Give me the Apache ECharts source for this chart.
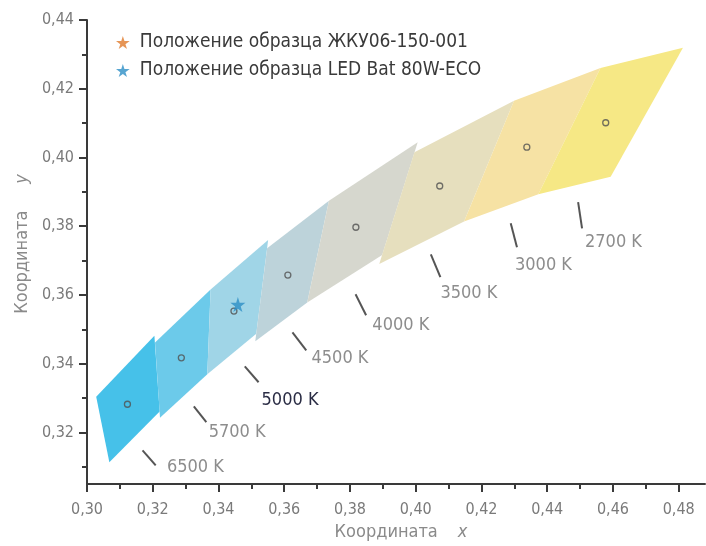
<!DOCTYPE html>
<html>
<head>
<meta charset="utf-8">
<script src="https://cdn.jsdelivr.net/npm/echarts@6/dist/echarts.min.js"></script>
<style>html,body{margin:0;padding:0;background:#fff}#c{width:706px;height:546px}</style>
</head>
<body>
<div id="c"></div>
<script>
// ---- data ----
const cctNames = ['6500 K', '5700 K', '5000 K', '4500 K', '4000 K', '3500 K', '3000 K', '2700 K'];
// quadrangle corners (x, y) for each CCT bin
const quadX = [
  [0.3205, 0.3028, 0.3068, 0.3221],
  [0.3376, 0.3207, 0.3222, 0.3366],
  [0.3551, 0.3376, 0.3366, 0.3515],
  [0.3736, 0.3548, 0.3512, 0.3670],
  [0.4006, 0.3736, 0.3670, 0.3898],
  [0.4299, 0.3996, 0.3889, 0.4147],
  [0.4562, 0.4299, 0.4147, 0.4373],
  [0.4813, 0.4562, 0.4373, 0.4593]
];
const quadY = [
  [0.3481, 0.3304, 0.3113, 0.3261],
  [0.3616, 0.3462, 0.3243, 0.3369],
  [0.3760, 0.3616, 0.3369, 0.3487],
  [0.3874, 0.3736, 0.3465, 0.3578],
  [0.4044, 0.3874, 0.3578, 0.3716],
  [0.4165, 0.4015, 0.3690, 0.3814],
  [0.4260, 0.4165, 0.3814, 0.3893],
  [0.4319, 0.4260, 0.3893, 0.3944]
];
const centerX = [0.3123, 0.3287, 0.3447, 0.3611, 0.3818, 0.4073, 0.4338, 0.4578];
const centerY = [0.3282, 0.3417, 0.3553, 0.3658, 0.3797, 0.3917, 0.4030, 0.4101];
// CCT annotation: leader line (start/end) and label anchor, in chart units
const leadX1 = [0.3169, 0.3325, 0.3480, 0.3625, 0.3817, 0.4046, 0.4289, 0.4494];
const leadY1 = [0.3148, 0.3276, 0.3392, 0.3491, 0.3602, 0.3718, 0.3809, 0.3870];
const leadX2 = [0.3209, 0.3363, 0.3522, 0.3667, 0.3849, 0.4075, 0.4308, 0.4506];
const leadY2 = [0.3104, 0.3230, 0.3346, 0.3439, 0.3541, 0.3652, 0.3739, 0.3794];
const labelX = [0.3243, 0.3370, 0.3531, 0.3683, 0.3868, 0.4075, 0.4302, 0.4515];
const labelY = [0.3098, 0.3200, 0.3293, 0.3415, 0.3512, 0.3605, 0.3686, 0.3753];
// samples
const sample1Name = 'Положение образца ЖКУ06-150-001';
const sample1 = [];
const sample2Name = 'Положение образца LED Bat 80W-ECO';
const sample2 = [[0.3459, 0.3572]];
// axis ticks
const xTickVals = [0.30, 0.32, 0.34, 0.36, 0.38, 0.40, 0.42, 0.44, 0.46, 0.48];
const xMinorVals = [0.31, 0.33, 0.35, 0.37, 0.39, 0.41, 0.43, 0.45, 0.47];
const yTickVals = [0.32, 0.34, 0.36, 0.38, 0.40, 0.42, 0.44];
const yMinorVals = [0.31, 0.33, 0.35, 0.37, 0.39, 0.41, 0.43];

// ---- styles ----
const quadColors = ['#46c1e9', '#6ccaea', '#a0d5e7', '#bdd3da', '#d6d7ce', '#e6dfbe', '#f6e2a4', '#f6e885'];
const FONT = '"Liberation Sans Narrow", "DejaVu Sans Condensed", "Roboto Condensed", Roboto, sans-serif';
const AXC = '#3a3a3a';
const STAR = 'path://M50,0 L61,35 L98,35 L68,57 L79,91 L50,70 L21,91 L32,57 L2,35 L39,35 Z';
const fmt = v => v.toFixed(2).replace('.', ',');

const chart = echarts.init(document.getElementById('c'), null, {renderer: 'canvas'});

const baseAxis = (min, max) => ({
  type: 'value', min, max, splitLine: {show: false},
  axisLine: {show: true, lineStyle: {color: AXC, width: 2}}
});

const option = {
  animation: false,
  backgroundColor: '#fff',
  grid: {left: 87, top: 20, right: 1, bottom: 62, containLabel: false, outerBoundsMode: 'none'},
  legend: {
    orient: 'vertical', left: 111, top: 28, itemGap: 9,
    itemWidth: 24, itemHeight: 13,
    textStyle: {fontFamily: FONT, fontSize: 19, color: '#3a3a3a'},
    data: [{name: sample1Name, icon: STAR}, {name: sample2Name, icon: STAR}]
  },
  xAxis: [
    Object.assign(baseAxis(0.30, 0.488), {
      position: 'bottom',
      axisTick: {show: true, customValues: xTickVals, length: 8, lineStyle: {color: AXC, width: 2}},
      axisLabel: {customValues: xTickVals, formatter: fmt, margin: 18, fontFamily: FONT, fontSize: 16, color: '#7a7a7a'},
      name: '{a|Координата}      {b|x}', nameLocation: 'middle', nameGap: 36,
      nameTextStyle: {padding: [0, 0, 0, 10], rich: {
        a: {fontFamily: FONT, fontSize: 18, color: '#8a8a8a'},
        b: {fontFamily: FONT, fontSize: 18, color: '#8a8a8a', fontStyle: 'italic'}
      }}
    }),
    Object.assign(baseAxis(0.30, 0.488), {
      position: 'bottom',
      axisLine: {show: false},
      axisTick: {show: true, customValues: xMinorVals, length: 5, lineStyle: {color: AXC, width: 2}},
      axisLabel: {show: false}
    })
  ],
  yAxis: [
    Object.assign(baseAxis(0.305, 0.44), {
      position: 'left',
      axisTick: {show: true, customValues: yTickVals, length: 8, lineStyle: {color: AXC, width: 2}},
      axisLabel: {customValues: yTickVals, formatter: fmt, margin: 13, fontFamily: FONT, fontSize: 16, color: '#7a7a7a'},
      name: '{a|Координата}        {b|y}', nameLocation: 'middle', nameGap: 41,
      nameTextStyle: {padding: [0, 0, 0, 16], rich: {
        a: {fontFamily: FONT, fontSize: 18, color: '#8a8a8a'},
        b: {fontFamily: FONT, fontSize: 18, color: '#8a8a8a', fontStyle: 'italic'}
      }}
    }),
    Object.assign(baseAxis(0.305, 0.44), {
      position: 'left',
      axisLine: {show: false},
      axisTick: {show: true, customValues: yMinorVals, length: 5, lineStyle: {color: AXC, width: 2}},
      axisLabel: {show: false}
    })
  ],
  series: [
    {
      type: 'custom', name: 'quads', silent: true, z: 1,
      xAxisIndex: 0, yAxisIndex: 0,
      data: cctNames.map((n, i) => [
        quadX[i][0], quadY[i][0], quadX[i][1], quadY[i][1],
        quadX[i][2], quadY[i][2], quadX[i][3], quadY[i][3], i]),
      encode: {x: [0, 2, 4, 6], y: [1, 3, 5, 7]},
      renderItem: (params, api) => {
        const pts = [0, 1, 2, 3].map(j => api.coord([api.value(2 * j), api.value(2 * j + 1)]));
        return {type: 'polygon', shape: {points: pts}, style: {fill: quadColors[api.value(8)], stroke: null}};
      }
    },
    {
      type: 'custom', name: 'cct', silent: true, z: 2,
      xAxisIndex: 0, yAxisIndex: 0,
      data: cctNames.map((n, i) => [leadX1[i], leadY1[i], leadX2[i], leadY2[i], labelX[i], labelY[i], i]),
      encode: {x: [0, 2, 4], y: [1, 3, 5]},
      renderItem: (params, api) => {
        const p1 = api.coord([api.value(0), api.value(1)]);
        const p2 = api.coord([api.value(2), api.value(3)]);
        const pt = api.coord([api.value(4), api.value(5)]);
        const i = api.value(6);
        const hi = cctNames[i] === '5000 K';
        return {type: 'group', children: [
          {type: 'line', shape: {x1: p1[0], y1: p1[1], x2: p2[0], y2: p2[1]},
            style: {stroke: '#555', lineWidth: 2}},
          {type: 'text', x: pt[0], y: pt[1], style: {
            text: cctNames[i], fill: hi ? '#2b2d45' : '#8d8d8d',
            fontFamily: FONT, fontSize: 18, align: 'left', verticalAlign: 'middle'}}
        ]};
      }
    },
    {
      type: 'scatter', name: 'centers', silent: true, z: 3,
      xAxisIndex: 0, yAxisIndex: 0,
      symbol: 'circle', symbolSize: 6,
      itemStyle: {color: 'rgba(255,255,255,0)', borderColor: '#505050', borderWidth: 1.3},
      data: centerX.map((x, i) => [x, centerY[i]])
    },
    {
      type: 'scatter', name: sample1Name, z: 4, xAxisIndex: 0, yAxisIndex: 0,
      symbol: STAR, symbolSize: 15, itemStyle: {color: '#e07a2c'}, data: sample1
    },
    {
      type: 'scatter', name: sample2Name, z: 4, xAxisIndex: 0, yAxisIndex: 0,
      symbol: STAR, symbolSize: 15, itemStyle: {color: '#2d8fc5'}, data: sample2
    }
  ]
};
chart.setOption(option);
</script>
</body>
</html>
